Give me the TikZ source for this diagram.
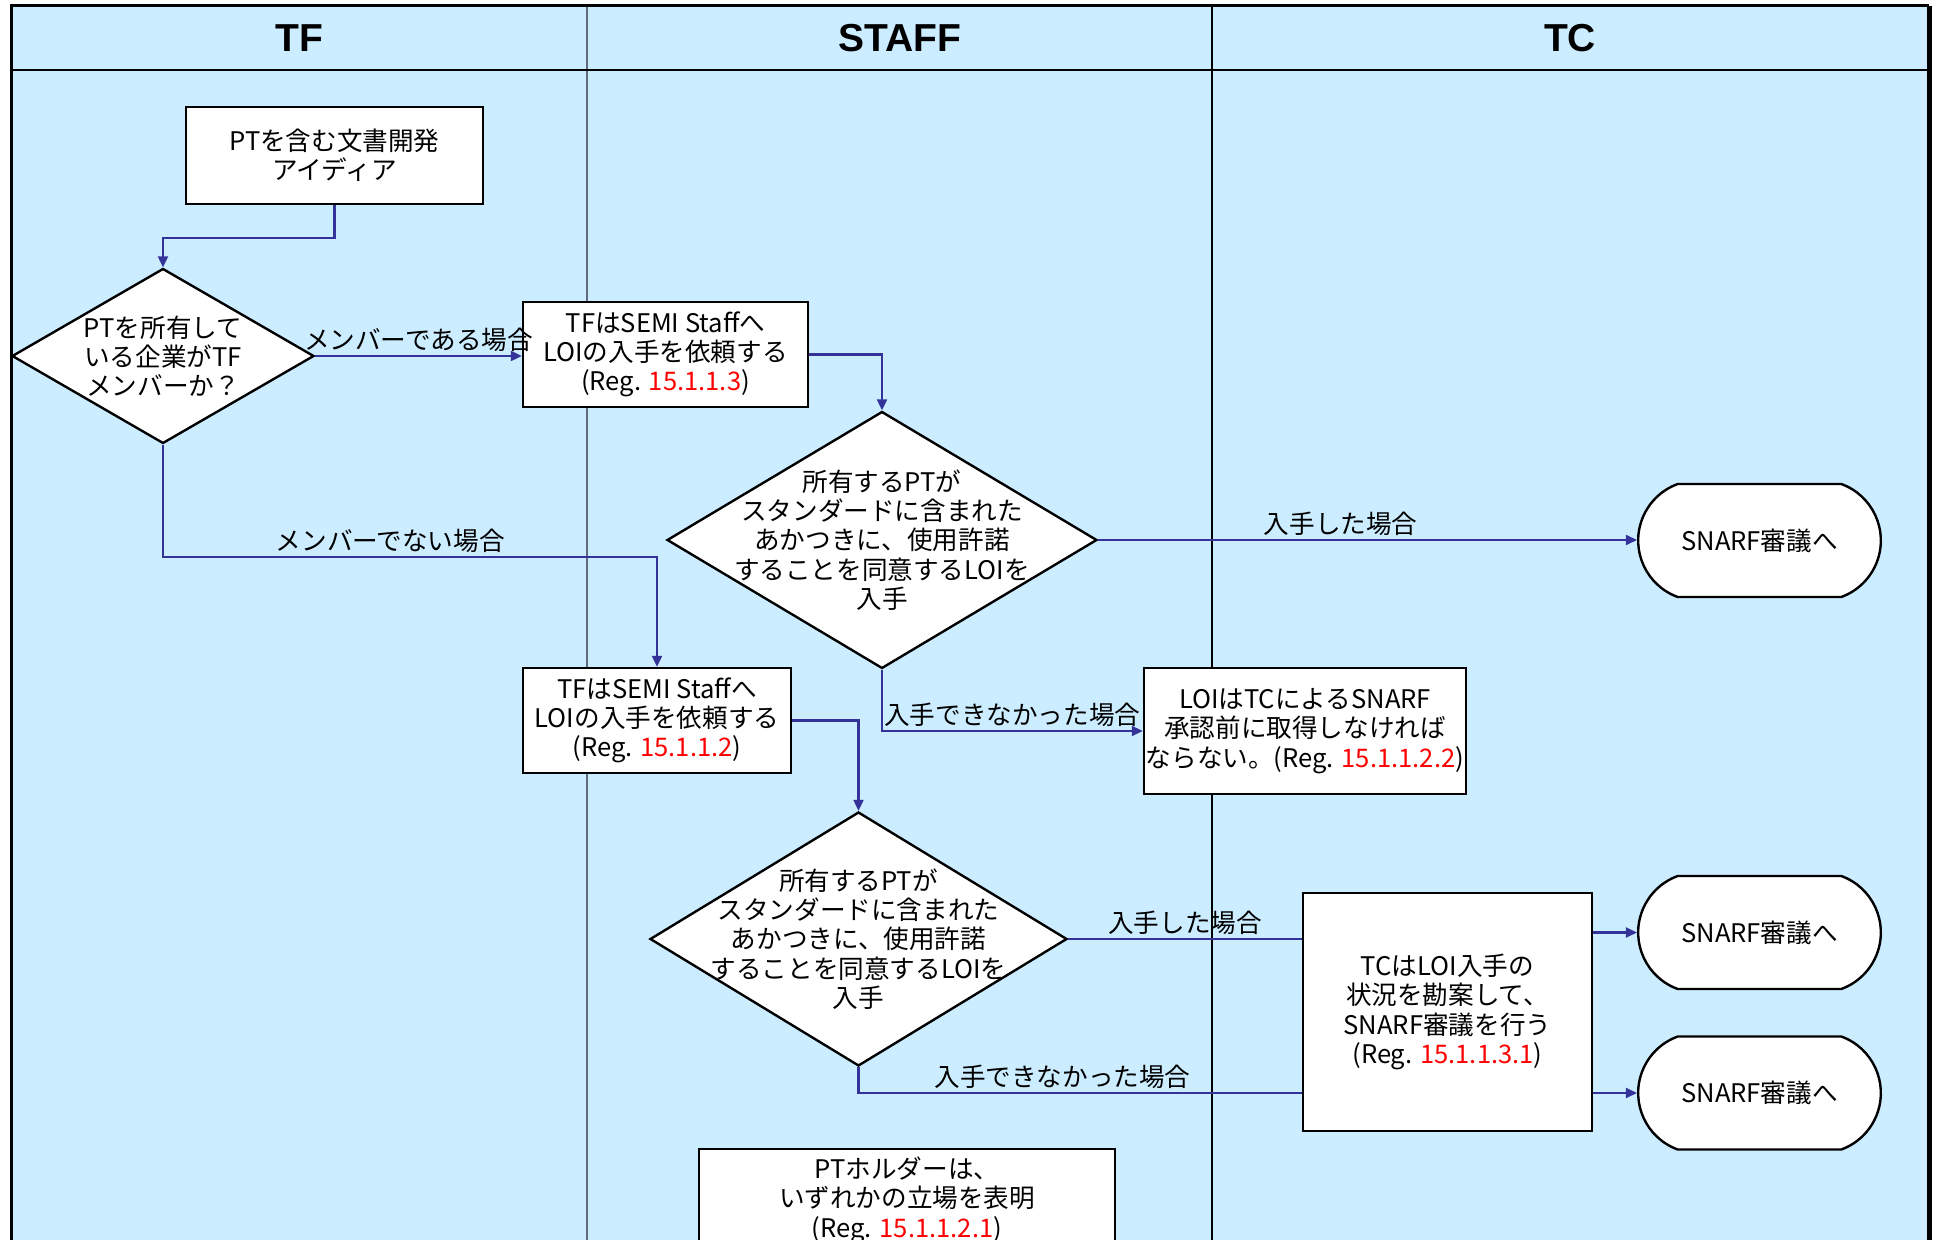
\documentclass[tikz,border=0pt]{standalone}
\usepackage{fontspec}
\setmainfont{Noto Sans CJK JP}
\newfontfamily\headfont{Liberation Sans}
\usetikzlibrary{shapes.geometric,shapes.misc,arrows.meta}
\definecolor{lanebg}{HTML}{CCECFF}
\definecolor{lanesep}{HTML}{5F6B7A}
\definecolor{flow}{HTML}{333399}
\definecolor{regred}{HTML}{FF0000}
\newcommand{\regno}[1]{(Reg. \textcolor{regred}{#1})}

\begin{document}
\begin{tikzpicture}[x=0.5pt,y=-0.5pt,
    every node/.style={font=\fontsize{12.8pt}{14.6pt}\selectfont},
    procbox/.style={draw,line width=1.2pt,fill=white,align=center,inner sep=1pt},
    decision/.style={draw,diamond,line width=1.2pt,fill=white,inner sep=0pt},
    qtext/.style={align=center,inner sep=0pt},
    terminal/.style={draw,rounded rectangle,rounded rectangle arc length=140,line width=1.2pt,
      fill=white,minimum width=128pt,minimum height=56.5pt},
    lanehead/.style={font=\headfont\bfseries\fontsize{19.5pt}{22pt}\selectfont},
    flowline/.style={draw=flow,line width=1.1pt},
    flowarrow/.style={flowline,-{Triangle[length=5.5pt,width=5pt]}},
    caselabel/.style={above,inner sep=1.5pt}]
  \useasboundingbox (0,0) rectangle (1934,1240);
  \clip (0,0) rectangle (1934,1240);

  % lanes
  \fill[lanebg] (11,6) rectangle (1929,1240);
  \draw[lanesep,line width=0.6pt] (587,6) -- (587,1240);
  \draw[line width=1pt] (1212,6) -- (1212,1240);
  \draw[line width=1.2pt] (11,70) -- (1929,70);
  \draw[line width=1.5pt] (11,1240) -- (11,6) -- (1929,6);
  \draw[line width=2.5pt] (1929,6) -- (1929,1240);
  \node[lanehead] (hTF) at (299,38) {TF};
  \node[lanehead] (hSTAFF) at (899.5,38) {STAFF};
  \node[lanehead] (hTC) at (1570,38) {TC};

  % TF lane
  \node[procbox,minimum width=148.5pt,minimum height=48.5pt] (idea) at (334.5,155.5)
    {PTを含む文書開発\\アイディア};
  \node[decision,minimum width=151pt,minimum height=87.5pt] (q1) at (163,356) {};
  \node[qtext] (q1t) at (q1) {PTを所有して\\いる企業がTF\\メンバーか？};
  \node[procbox,minimum width=142.5pt,minimum height=52.5pt] (req1) at (665.5,354.5)
    {TFはSEMI Staffへ\\LOIの入手を依頼する\\\regno{15.1.1.3}};
  \node[procbox,minimum width=134pt,minimum height=52.5pt] (req2) at (657,720.5)
    {TFはSEMI Staffへ\\LOIの入手を依頼する\\\regno{15.1.1.2}};

  % STAFF lane
  \node[decision,minimum width=215pt,minimum height=128.5pt] (q2) at (882,540) {};
  \node[qtext] (q2t) at (q2) {所有するPTが\\スタンダードに含まれた\\あかつきに、使用許諾\\することを同意するLOIを\\入手};
  \node[decision,minimum width=208.5pt,minimum height=127pt] (q3) at (858.5,939) {};
  \node[qtext] (q3t) at (q3) {所有するPTが\\スタンダードに含まれた\\あかつきに、使用許諾\\することを同意するLOIを\\入手};
  \node[procbox,minimum width=208pt,minimum height=51pt,anchor=north] (holder) at (907,1148)
    {PTホルダーは、\\いずれかの立場を表明\\\regno{15.1.1.2.1}};

  % TC lane
  \node[procbox,minimum width=158pt,minimum height=63pt] (must) at (1305,731)
    {LOIはTCによるSNARF\\承認前に取得しなければ\\ならない。\regno{15.1.1.2.2}};
  \node[procbox,minimum width=144.5pt,minimum height=119pt] (tcjudge) at (1447.5,1012)
    {TCはLOI入手の\\状況を勘案して、\\SNARF審議を行う\\\regno{15.1.1.3.1}};
  \node[terminal] (end1) at (1759.5,540.5) {SNARF審議へ};
  \node[terminal] (end2) at (1759.5,932.5) {SNARF審議へ};
  \node[terminal] (end3) at (1759.5,1093) {SNARF審議へ};

  % connectors
  \draw[flowarrow] (idea.south) -- ++(0,33) -| (q1.north);
  \draw[flowarrow] (q1.east) -- node[caselabel] (c1) {メンバーである場合} (q1.east -| req1.west);
  \draw[flowarrow] (req1.east) -| (q2.north);
  \draw[flowarrow] (q1.south) -- ++(0,112.5) -| node[caselabel,pos=0.23] (c2) {メンバーでない場合} (req2.north);
  \draw[flowarrow] (q2.east) -- node[caselabel,pos=0.45] (c3) {入手した場合} (q2.east -| end1.west);
  \draw[flowarrow] (q2.south) |- node[caselabel,pos=0.75] (c4) {入手できなかった場合} (must.west);
  \draw[flowarrow] (req2.east) -| (q3.north);
  \draw[flowline] (q3.east) -- node[caselabel] (c5) {入手した場合} (q3.east -| tcjudge.west);
  \draw[flowline] (q3.south) |- node[caselabel,pos=0.73] (c6) {入手できなかった場合} (tcjudge.west |- end3.west);
  \draw[flowarrow] (tcjudge.east |- end2.west) -- (end2.west);
  \draw[flowarrow] (tcjudge.east |- end3.west) -- (end3.west);
\end{tikzpicture}
\end{document}
